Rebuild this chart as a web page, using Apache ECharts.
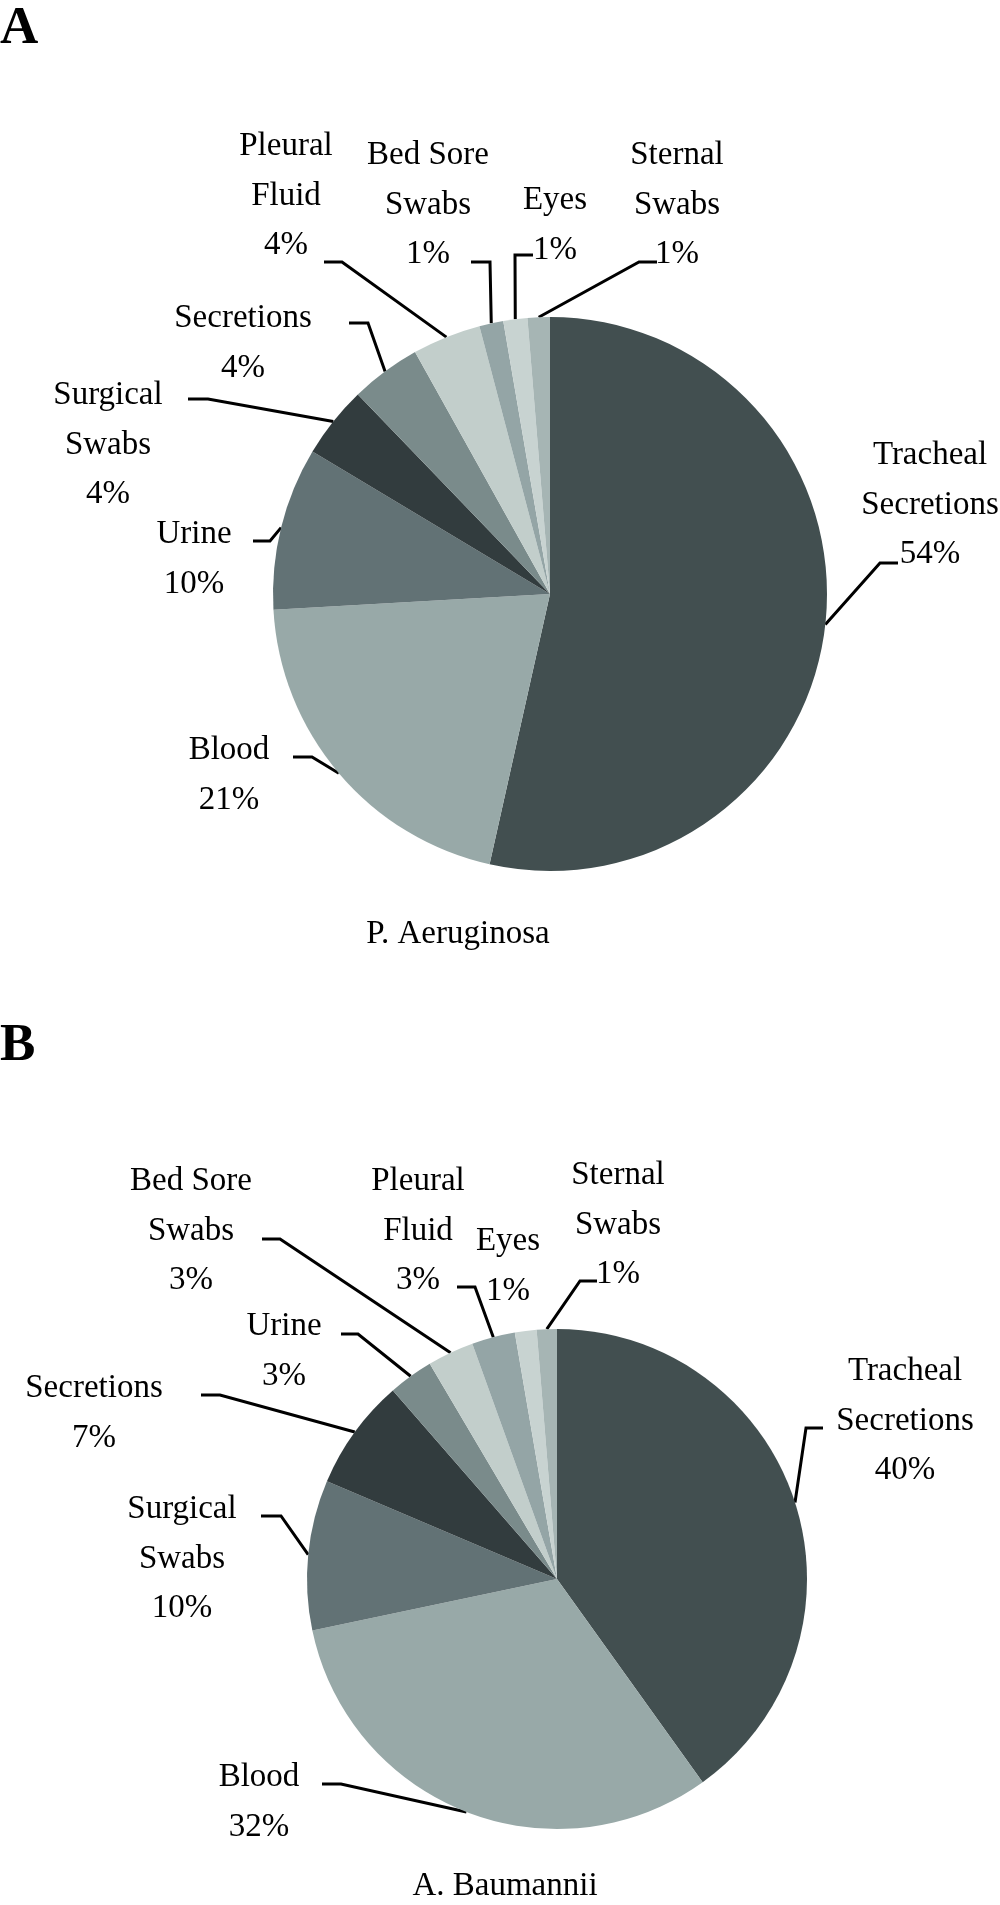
<!DOCTYPE html>
<html>
<head>
<meta charset="utf-8">
<script src="https://cdn.jsdelivr.net/npm/echarts@6/dist/echarts.min.js"></script>
<style>
  html, body { margin: 0; padding: 0; background: #ffffff; }
  #chart { width: 1000px; height: 1905px; }
</style>
</head>
<body>
<div id="chart"></div>
<script>
// ---------- DATA ----------
// Panel A: P. Aeruginosa (slice shares, printed labels as shown)
const categoriesA = ['Tracheal\nSecretions', 'Blood', 'Urine', 'Surgical\nSwabs', 'Secretions',
                     'Pleural\nFluid', 'Bed Sore\nSwabs', 'Eyes', 'Sternal\nSwabs'];
const valuesA = [53.5, 20.6, 9.5, 4.2, 4.1, 4.0, 1.4, 1.4, 1.3];
const pctLabelsA = ['54%', '21%', '10%', '4%', '4%', '4%', '1%', '1%', '1%'];

// Panel B: A. Baumannii
const categoriesB = ['Tracheal\nSecretions', 'Blood', 'Surgical\nSwabs', 'Secretions', 'Urine',
                     'Bed Sore\nSwabs', 'Pleural\nFluid', 'Eyes', 'Sternal\nSwabs'];
const valuesB = [40.1, 31.6, 9.7, 7.2, 2.9, 3.0, 2.8, 1.4, 1.3];
const pctLabelsB = ['40%', '32%', '10%', '7%', '3%', '3%', '3%', '1%', '1%'];

const captionA = 'P. Aeruginosa';
const captionB = 'A. Baumannii';

// ---------- STYLE / LAYOUT ----------
const sliceColors = ['#424f50', '#98a9a8', '#627275', '#323c3e', '#7a8b8b',
                     '#c2cecb', '#94a5a6', '#c8d3d1', '#a6b5b4'];
const FONT = '"Liberation Serif", "Times New Roman", serif';
const FS = 33, LH = 49.5, BASE_OFF = 31;

// label anchor: [centerX, firstLineBaseline]
const labelPosA = [[930, 462], [229, 757], [194, 541], [108, 402], [243, 325],
                   [286, 153], [428, 162], [555, 207], [677, 162]];
// label line: [elbowX, elbowY, endX, endY]
const linePtsA = [[880, 563, 898, 563], [312, 757, 293, 757], [270, 541, 253, 541],
                  [208, 399, 188, 399], [368, 323, 349, 323], [342, 262, 324, 262],
                  [490, 262, 471, 262], [515, 255, 533, 255], [639, 262, 657, 262]];

const labelPosB = [[905, 1378], [259, 1784], [182, 1516], [94, 1395], [284, 1333],
                   [191, 1188], [418, 1188], [508, 1248], [618, 1182]];
const linePtsB = [[806, 1428, 823, 1428], [341, 1784, 322, 1784], [281, 1516, 261, 1516],
                  [220, 1395, 201, 1395], [358, 1334, 341, 1334], [280, 1239, 262, 1239],
                  [475, 1287, 457, 1287], null, [580, 1281, 597, 1281]];

function buildData(cats, vals, lines) {
  return cats.map((c, i) => {
    const item = { name: c, value: vals[i], itemStyle: { color: sliceColors[i] } };
    if (!lines[i]) item.labelLine = { show: false };
    return item;
  });
}

function makeLayout(pos, lines) {
  return function (params) {
    const i = params.dataIndex;
    const out = {
      x: pos[i][0],
      y: pos[i][1] - BASE_OFF,
      align: 'center',
      verticalAlign: 'top'
    };
    const pts = params.labelLinePoints;
    if (lines[i] && pts && pts.length) {
      const l = lines[i];
      out.labelLinePoints = [pts[0], [l[0], l[1]], [l[2], l[3]]];
    }
    return out;
  };
}

function pieSeries(center, radius, cats, vals, pcts, pos, lines) {
  return {
    type: 'pie',
    center: center,
    radius: radius,
    startAngle: 90,
    clockwise: true,
    avoidLabelOverlap: false,
    animation: false,
    silent: true,
    itemStyle: { borderWidth: 0 },
    label: {
      show: true,
      position: 'outside',
      formatter: (p) => p.name + '\n' + pcts[p.dataIndex],
      fontFamily: FONT,
      fontSize: FS,
      lineHeight: LH,
      color: '#000000',
      align: 'center'
    },
    labelLine: {
      show: true,
      length: 20,
      length2: 20,
      smooth: false,
      lineStyle: { color: '#000000', width: 3 }
    },
    labelLayout: makeLayout(pos, lines),
    data: buildData(cats, vals, lines)
  };
}

const chart = echarts.init(document.getElementById('chart'), null, { renderer: 'canvas' });

chart.setOption({
  backgroundColor: '#ffffff',
  animation: false,
  graphic: [
    { type: 'text', x: 0, y: 29, style: { text: 'A', font: 'bold 53px ' + FONT, fill: '#000', align: 'left', verticalAlign: 'middle' } },
    { type: 'text', x: 0, y: 1046, style: { text: 'B', font: 'bold 53px ' + FONT, fill: '#000', align: 'left', verticalAlign: 'middle' } },
    { type: 'text', x: 458, y: 934, style: { text: captionA, font: FS + 'px ' + FONT, fill: '#000', align: 'center', verticalAlign: 'middle' } },
    { type: 'text', x: 505, y: 1886, style: { text: captionB, font: FS + 'px ' + FONT, fill: '#000', align: 'center', verticalAlign: 'middle' } }
  ],
  series: [
    pieSeries([550, 594], 277, categoriesA, valuesA, pctLabelsA, labelPosA, linePtsA),
    pieSeries([557, 1579], 250, categoriesB, valuesB, pctLabelsB, labelPosB, linePtsB)
  ]
});
</script>
</body>
</html>
